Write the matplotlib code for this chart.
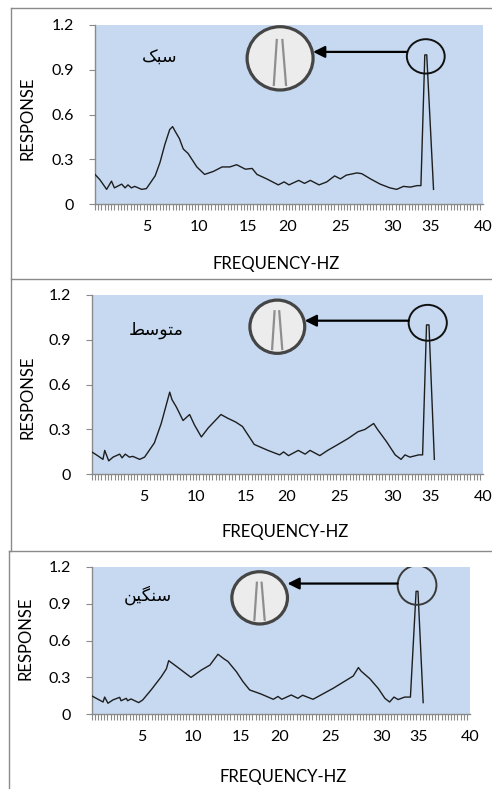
import numpy as np
import matplotlib
matplotlib.use('Agg')
import matplotlib.pyplot as plt
from matplotlib.patches import Ellipse
from matplotlib.lines import Line2D

plt.rcParams['font.family'] = ['Lato', 'DejaVu Sans']

# Response vs frequency, light / medium / heavy
light_f = [0, 0.5, 1.2, 1.7, 2.0, 2.75, 3.1, 3.4, 3.75, 4.1, 4.8, 5.3, 6.2, 6.7, 7.2,
           7.7, 8.0, 8.25, 8.7, 9.1, 9.6, 10.5, 11.3, 12.2, 13.1, 13.9, 14.6, 15.5, 16.2, 16.7,
           17.7, 18.9, 19.5, 20.0, 21.0, 21.6, 22.2, 23.1, 23.9, 24.7, 25.3, 25.9, 27.0, 27.5, 28.4,
           29.4, 30.4, 31.1, 31.8, 32.5, 33.2, 33.6, 34.0, 34.2, 34.9]
light_v = [0.20, 0.165, 0.10, 0.155, 0.11, 0.135, 0.11, 0.13, 0.11, 0.12, 0.10, 0.105, 0.19, 0.28, 0.40,
           0.50, 0.52, 0.49, 0.44, 0.37, 0.34, 0.25, 0.20, 0.22, 0.25, 0.25, 0.265, 0.235, 0.24, 0.20,
           0.17, 0.13, 0.15, 0.13, 0.16, 0.14, 0.16, 0.13, 0.15, 0.19, 0.17, 0.195, 0.21, 0.205, 0.17,
           0.135, 0.11, 0.10, 0.12, 0.115, 0.125, 0.125, 1.0, 1.0, 0.10]

medium_f = [0, 0.6, 1.15, 1.33, 1.74, 2.18, 2.86, 3.1, 3.43, 3.85, 4.2, 4.9, 5.4, 6.4, 7.1,
            7.97, 8.2, 8.65, 9.33, 10.0, 10.5, 11.2, 11.9, 13.2, 13.9, 14.7, 15.4, 16.6, 18.0, 19.2,
            19.6, 20.1, 21.1, 21.8, 22.3, 23.3, 24.1, 24.9, 26.2, 27.2, 27.9, 28.8, 29.2, 30.1, 31.0,
            31.6, 32.0, 32.5, 33.4, 33.8, 34.2, 34.45, 35.0]
medium_v = [0.15, 0.125, 0.10, 0.16, 0.09, 0.115, 0.135, 0.11, 0.135, 0.115, 0.12, 0.10, 0.115, 0.21, 0.34,
            0.55, 0.50, 0.45, 0.36, 0.40, 0.33, 0.25, 0.31, 0.40, 0.375, 0.35, 0.32, 0.20, 0.16, 0.13,
            0.15, 0.125, 0.16, 0.135, 0.16, 0.125, 0.16, 0.19, 0.24, 0.285, 0.30, 0.34, 0.30, 0.22, 0.13,
            0.10, 0.13, 0.115, 0.13, 0.13, 1.0, 1.0, 0.10]

heavy_f = [0, 0.6, 1.2, 1.37, 1.72, 2.25, 2.96, 3.1, 3.66, 3.8, 4.15, 4.97, 5.4, 6.3, 7.36,
           7.9, 8.14, 8.6, 8.95, 10.5, 11.6, 12.5, 13.35, 14.0, 14.4, 15.3, 16.0, 16.7, 17.9, 19.2,
           19.7, 20.1, 21.1, 21.8, 22.3, 23.4, 25.5, 27.65, 28.2, 28.5, 29.4, 30.3, 31.0, 31.5, 31.96,
           32.4, 33.1, 33.7, 34.3, 34.5, 35.05]
heavy_v = [0.15, 0.125, 0.10, 0.14, 0.09, 0.117, 0.138, 0.11, 0.13, 0.11, 0.125, 0.095, 0.117, 0.20, 0.306,
           0.37, 0.436, 0.41, 0.39, 0.30, 0.36, 0.40, 0.488, 0.45, 0.43, 0.346, 0.265, 0.198, 0.165, 0.122,
           0.145, 0.122, 0.157, 0.13, 0.155, 0.122, 0.21, 0.311, 0.38, 0.35, 0.29, 0.21, 0.13, 0.10, 0.14,
           0.12, 0.14, 0.14, 1.0, 1.0, 0.095]

# Persian labels (light, medium, heavy) written with presentation forms in visual order,
# since matplotlib does no Arabic shaping: سبک / متوسط / سنگین
labels = ['\uFB8F\uFE92\uFEB3',
          '\uFEC2\uFEB3\uFEEE\uFE98\uFEE3',
          '\uFEE6\uFBFF\uFB95\uFEE8\uFEB3']

y_ticks = [0, 0.3, 0.6, 0.9, 1.2]
y_ticklabels = ['0', '0.3', '0.6', '0.9', '1.2']
x_ticklabels = ['5', '10', '15', '20', '25', '30', '35', '40']
x_tickpos = [5.3, 10.7, 15.8, 19.9, 25.3, 30.7, 34.6, 40.0]

W, H = 492, 789
fig = plt.figure(figsize=(W / 100, H / 100), dpi=100)

# layout per panel (pixels / axes fractions)
rects = [(95, 25, 483, 204.3), (91.7, 295, 483.3, 474.3), (91.7, 566.7, 470, 714.3)]
text_pos = [(0.168, 0.82), (0.164, 0.805), (0.149, 0.808)]
mag = [(0.477, 0.814, 0.170, 0.353), (0.474, 0.823, 0.140, 0.297), (0.444, 0.789, 0.147, 0.354)]
ring = [(3.9, 0.23, -0.01), (3.9, 0.24, 0.014), (4.1, 0.32, 0.05)]
arrow_y = [1.02, 1.028, 1.063]
ylab = [(-0.173, 0.48), (-0.164, 0.43), (-0.176, 0.517)]
xlab = [(0.466, -0.333), (0.494, -0.322), (0.506, -0.425)]

series = [(light_f, light_v), (medium_f, medium_v), (heavy_f, heavy_v)]
grey = '#8a8a8a'

for i, (f, v) in enumerate(series):
    x0, y0, x1, y1 = rects[i]
    ax = fig.add_axes([x0 / W, 1 - y1 / H, (x1 - x0) / W, (y1 - y0) / H])
    ax.set_facecolor('#C6D9F1')
    ax.plot(f, v, color='#1e1e1e', lw=1.0, zorder=3)
    ax.set_xlim(0, 40)
    ax.set_ylim(0, 1.2)

    for s in ['top', 'right']:
        ax.spines[s].set_visible(False)
    for s in ['left', 'bottom']:
        ax.spines[s].set_color(grey)
        ax.spines[s].set_linewidth(1)

    ax.set_yticks(y_ticks)
    ax.set_yticklabels(y_ticklabels, fontsize=11.5)
    ax.set_xticks(x_tickpos)
    ax.set_xticklabels(x_ticklabels, fontsize=11.5)
    ax.set_xticks(np.arange(0, 40.01, 1 / 3), minor=True)
    ax.tick_params(axis='x', which='major', length=0, pad=11.5)
    ax.tick_params(axis='x', which='minor', length=4, width=0.8, color=grey, direction='out')
    ax.tick_params(axis='y', length=4, width=0.8, color=grey, pad=11)

    ax.set_ylabel('RESPONSE', fontsize=12, va='center')
    ax.yaxis.set_label_coords(*ylab[i])
    ax.set_xlabel('FREQUENCY-HZ', fontsize=12, va='center')
    ax.xaxis.set_label_coords(*xlab[i])

    ax.text(*text_pos[i], labels[i], transform=ax.transAxes, fontsize=12.5,
            family=['DejaVu Sans'], ha='center', va='center')

    # ring around the peak
    f_arr, v_arr = np.array(f), np.array(v)
    top = v_arr == v_arr.max()
    px = f_arr[top].mean()
    rw, rh, dy = ring[i]
    ax.add_patch(Ellipse((px, v_arr.max() + dy), rw, rh, fill=False,
                         ec='#111111' if i < 2 else '#3a3a3a', lw=1.4, zorder=4))

    # magnified view
    mx, my, mw, mh = mag[i]
    ax.add_patch(Ellipse((mx, my), mw, mh, transform=ax.transAxes, fc='#ececec',
                         ec='#454545', lw=2.3, zorder=5))
    for (u0, w0), (u1, w1) in [((-0.19, -0.84), (-0.10, 0.58)), ((0.07, 0.58), (0.18, -0.84))]:
        ax.add_line(Line2D([mx + u0 * mw / 2, mx + u1 * mw / 2], [my + w0 * mh / 2, my + w1 * mh / 2],
                           transform=ax.transAxes, color='#8e8e8e', lw=1.6, zorder=6))

    ax.annotate('', xy=((mx + mw / 2) * 40, arrow_y[i]), xytext=(px - rw / 2, arrow_y[i]),
                arrowprops=dict(arrowstyle='-|>,head_length=0.7,head_width=0.35',
                                color='black', lw=1.6, shrinkA=0, shrinkB=0), zorder=6)

# panel frames
frame = [((11, 8), (492, 8)), ((11, 8), (11, 551)), ((11, 279), (492, 279)),
         ((9, 551), (492, 551)), ((9, 551), (9, 789))]
for (a, b) in frame:
    fig.add_artist(Line2D([a[0] / W, b[0] / W], [1 - a[1] / H, 1 - b[1] / H],
                          transform=fig.transFigure, color=grey, lw=1))

plt.savefig('out.png', dpi=100)
